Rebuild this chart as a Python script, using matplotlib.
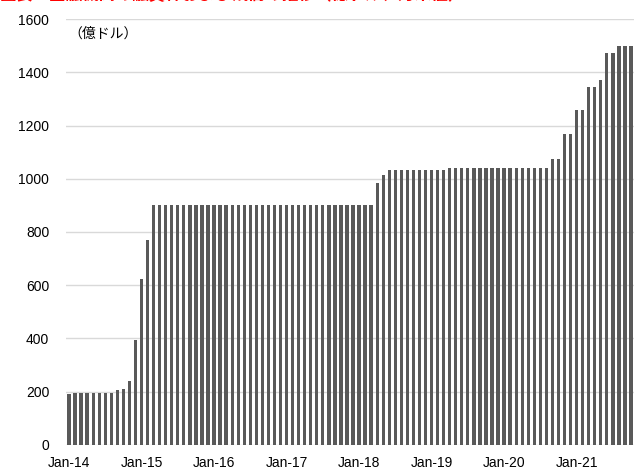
import numpy as np
import matplotlib
matplotlib.use('Agg')
import matplotlib.pyplot as plt

plt.rcParams['font.family'] = ['Liberation Sans', 'Noto Sans CJK JP', 'DejaVu Sans']

# 月末残高（億ドル）、2014年1月〜2021年10月
values = [191, 196, 196, 196, 196, 196, 196, 196, 205, 211, 238, 394,
          622, 768, 900, 900, 900, 900, 900, 900, 900, 900, 900, 900,
          900, 900, 900, 900, 900, 900, 900, 900, 900, 900, 900, 900,
          900, 900, 900, 900, 900, 900, 900, 900, 900, 900, 900, 900,
          900, 900, 900, 983, 1014, 1032, 1032, 1032, 1032, 1032, 1032, 1032,
          1032, 1032, 1032, 1039, 1039, 1039, 1039, 1039, 1039, 1039, 1039, 1039,
          1039, 1039, 1039, 1039, 1039, 1039, 1039, 1039, 1073, 1073, 1167, 1167,
          1257, 1257, 1345, 1345, 1370, 1472, 1472, 1499, 1499, 1499]
tick_labels = ['Jan-14', 'Jan-15', 'Jan-16', 'Jan-17', 'Jan-18', 'Jan-19', 'Jan-20', 'Jan-21']
y_ticks = [0, 200, 400, 600, 800, 1000, 1200, 1400, 1600]

fig = plt.figure(figsize=(6.35, 4.72), dpi=100)
W, H = 635, 472
ax = fig.add_axes([66 / W, (H - 444.7) / H, (634 - 66) / W, (444.7 - 19.1) / H])

x = np.arange(len(values))
ax.bar(x, values, width=0.55, color='#595959', zorder=2)

ax.set_xlim(-0.5, len(values) - 0.5)
ax.set_ylim(0, 1600)
ax.set_yticks(y_ticks)
ax.set_xticks(np.arange(len(tick_labels)) * 12)
ax.set_xticklabels(tick_labels)
ax.tick_params(axis='y', length=0, pad=12, labelsize=10)
ax.tick_params(axis='x', length=0, pad=8, labelsize=10)
ax.grid(axis='y', color='#d9d9d9', linewidth=1, zorder=0)
for s in ax.spines.values():
    s.set_visible(False)

ax.text(0.005, 0.982, '（億ドル）', transform=ax.transAxes, fontsize=10,
        va='top', ha='left', family=['Noto Sans CJK JP'])

# 上端で切れているタイトル
fig.text(0.0, 1 - 4 / H, '図表：金融機関の融資枠および残高の推移（億ドル、月末値）',
         color='red', fontsize=12, fontweight='bold', va='bottom', ha='left',
         family=['Noto Sans CJK JP'])

fig.savefig('out.png', dpi=100)
